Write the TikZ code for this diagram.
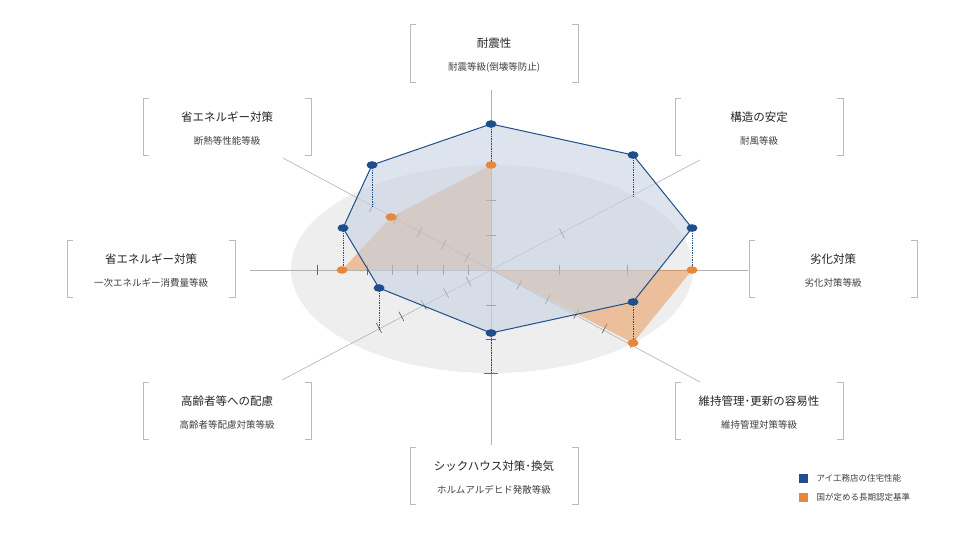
\documentclass[tikz,border=0pt]{standalone}
\usepackage{fontspec}
\usetikzlibrary{calc}
\newfontfamily\jp{Noto Sans CJK JP}
\definecolor{bl}{HTML}{1F4E8C}
\definecolor{orr}{HTML}{E8873A}
\definecolor{brk}{HTML}{BBBBBB}
\begin{document}
\begin{tikzpicture}[x=1pt,y=-1pt,
  axis/.style={draw=gray!60,line width=0.6pt},
  tick/.style={draw=gray!80!black,line width=0.7pt},
  bdot/.style={fill=bl,draw=none},
  odot/.style={fill=orr,draw=none},
  dots/.style={draw=bl,densely dotted,line width=0.7pt},
  ttl/.style={font=\jp\fontsize{11.5}{13}\selectfont,text=black!85},
  sub/.style={font=\jp\fontsize{9.5}{11}\selectfont,text=black!75},
  lg/.style={font=\jp\fontsize{8.5}{10}\selectfont,text=black!75,anchor=west}]
\useasboundingbox (0,0) rectangle (979,534);
\fill[white] (0,0) rectangle (979,534);
% ellipse
\fill[gray!13] (492,269) ellipse [x radius=201, y radius=104];
% axes
\draw[axis] (250,270) -- (748,270);
\draw[axis] (491,90) -- (491,445);
\draw[axis] (283,158) -- (700,382);
\draw[axis] (282,380) -- (700,160);
% ticks
\foreach \x in {317,367,392,417,443,468,559,627} \draw[tick] (\x,265) -- (\x,275);
\foreach \y in {200,235,305,339} \draw[tick] (486,\y) -- (496,\y);
\draw[tick] (484,373) -- (498,373);
\foreach \t in {0.2,0.4,0.6,0.8,1.0} {
  \draw[tick] ($(491,270)+\t*(-119,-63)+(2.5,-4.7)$) -- ($(491,270)+\t*(-119,-63)+(-2.5,4.7)$);
  \draw[tick] ($(491,270)+\t*(142,73)+(2.5,-4.7)$) -- ($(491,270)+\t*(142,73)+(-2.5,4.7)$);
  \draw[tick] ($(491,270)+\t*(-112,58)+(-2.5,-4.7)$) -- ($(491,270)+\t*(-112,58)+(2.5,4.7)$);
}
\draw[tick] ($(491,270)+0.5*(142,-73)+(-2.5,-4.7)$) -- ($(491,270)+0.5*(142,-73)+(2.5,4.7)$);
% orange polygon
\fill[orr,opacity=0.45] (342,270) -- (391,217) -- (491,165) -- (491,270) -- (692,270) -- (633,343) -- (491,270) -- cycle;
% blue polygon
\fill[bl!25,opacity=0.6] (491,124) -- (633,155) -- (692,228) -- (633,302) -- (491,333) -- (379,288) -- (343,228) -- (372,165) -- cycle;
\draw[bl,line width=1pt] (491,124) -- (633,155) -- (692,228) -- (633,302) -- (491,333) -- (379,288) -- (343,228) -- (372,165) -- cycle;
% dotted drops
\draw[dots] (491,124) -- (491,165);
\draw[dots] (633,155) -- (633,197);
\draw[dots] (692,228) -- (692,270);
\draw[dots] (633,302) -- (633,343);
\draw[dots] (491,333) -- (491,373);
\draw[dots] (379,288) -- (379,329);
\draw[dots] (343,228) -- (343,270);
\draw[dots] (372,165) -- (372,207);
% orange dots
\foreach \p in {(491,165),(391,217),(342,270),(692,270),(633,343)} \fill[odot] \p ellipse [x radius=5.5,y radius=3.8];
% blue dots
\foreach \p in {(491,124),(633,155),(692,228),(633,302),(491,333),(379,288),(343,228),(372,165)} \fill[bdot] \p ellipse [x radius=5.5,y radius=3.8];
% label boxes
\newcommand\labbox[7]{%
  \draw[brk,line width=0.6pt] (#1+6,#2) -- (#1,#2) -- (#1,#4) -- (#1+6,#4);
  \draw[brk,line width=0.6pt] (#3-6,#2) -- (#3,#2) -- (#3,#4) -- (#3-6,#4);
  \node[ttl] (#7t) at ({(#1+#3)/2},{#2+19}) {#5};
  \node[sub] (#7s) at ({(#1+#3)/2},{#2+43}) {#6};}
\labbox{410}{24}{578}{82}{耐震性}{耐震等級(倒壊等防止)}{a}
\labbox{675}{98}{843}{155}{構造の安定}{耐風等級}{b}
\labbox{749}{240}{917}{297}{劣化対策}{劣化対策等級}{c}
\labbox{675}{382}{843}{439}{維持管理･更新の容易性}{維持管理対策等級}{d}
\labbox{410}{447}{578}{504}{シックハウス対策･換気}{ホルムアルデヒド発散等級}{e}
\labbox{143}{382}{311}{439}{高齢者等への配慮}{高齢者等配慮対策等級}{f}
\labbox{67}{240}{235}{297}{省エネルギー対策}{一次エネルギー消費量等級}{g}
\labbox{143}{98}{311}{155}{省エネルギー対策}{断熱等性能等級}{h}
% legend
\fill[bl] (799,474) rectangle (808,483);
\node[lg] (l1) at (813,478.5) {アイ工務店の住宅性能};
\fill[orr] (799,493) rectangle (808,502);
\node[lg] (l2) at (813,497.5) {国が定める長期認定基準};
\end{tikzpicture}
\end{document}
